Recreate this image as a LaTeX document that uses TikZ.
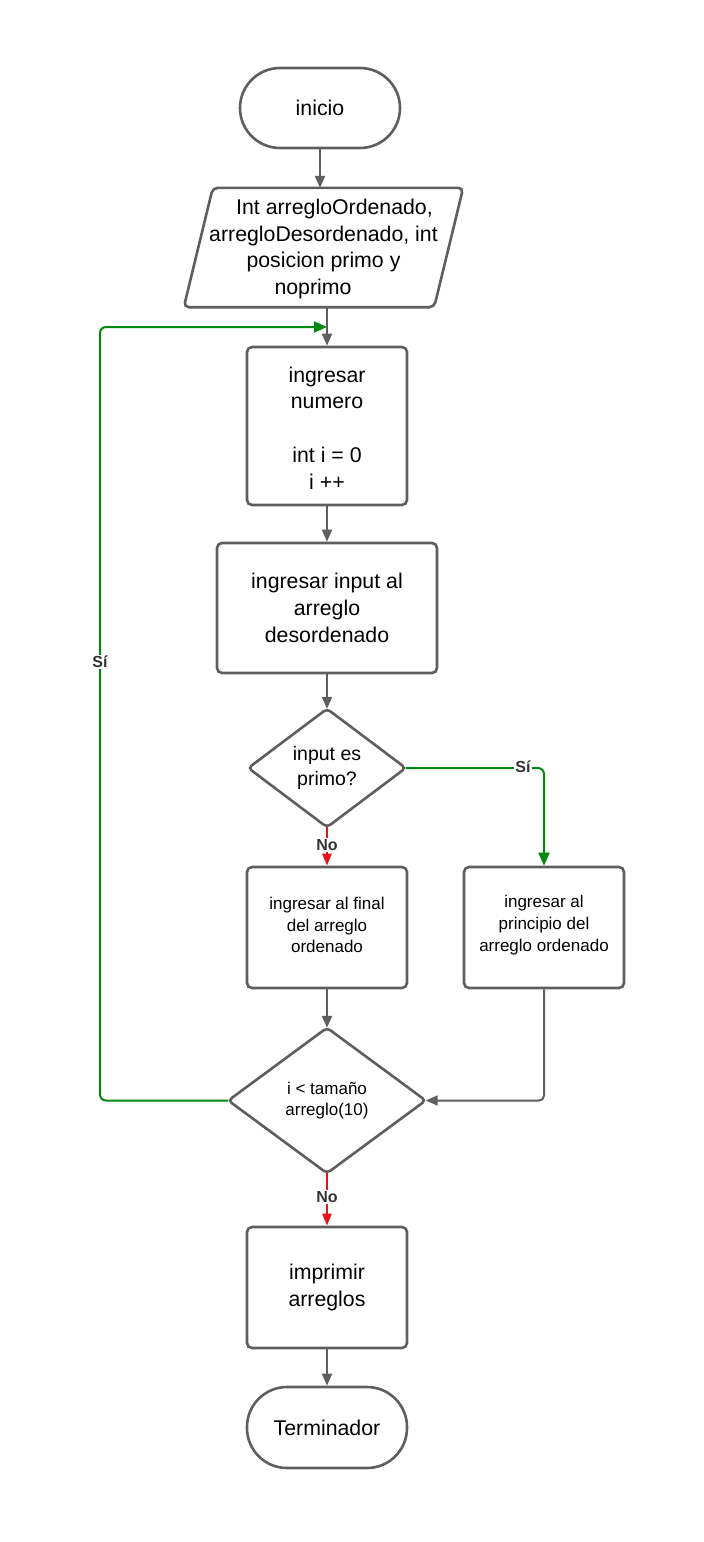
\documentclass[tikz,border=0pt]{standalone}
\usepackage{fontspec}
\setmainfont{Liberation Sans}
\usetikzlibrary{arrows.meta,calc}
\definecolor{ln}{HTML}{5E5E5E}
\definecolor{gr}{HTML}{00890E}
\definecolor{rd}{HTML}{E8141B}
\definecolor{lbl}{HTML}{333333}
\begin{document}
\begin{tikzpicture}[x=1pt,y=-1pt,
  big/.style={font=\fontsize{21.3}{26.8}\selectfont},
  mid/.style={font=\fontsize{19.5}{25}\selectfont},
  sml/.style={font=\fontsize{17}{21.8}\selectfont},
  shp/.style={draw=ln, line width=2.6pt, rounded corners=5pt, fill=white},
  box/.style={shp, align=center, minimum width=160pt, inner sep=0pt},
  tnode/.style={align=center, inner sep=0pt, draw=none},
  arr/.style={draw=ln, line width=2pt, -{Triangle[length=12pt,width=10pt]}},
  garr/.style={draw=gr, line width=2pt, rounded corners=6pt, -{Triangle[length=13pt,width=11pt]}},
  rarr/.style={draw=rd, line width=2.4pt, -{Triangle[length=12pt,width=9pt]}},
  lab/.style={font=\fontsize{16}{18}\selectfont\bfseries, text=lbl, fill=white, inner sep=1pt}]
\useasboundingbox (0,0) rectangle (704,1542);
\fill[white] (0,0) rectangle (704,1542);

% start
\node[box, big, rounded corners=40pt, minimum height=80pt] (ini) at (320,108) {inicio};

% parallelogram
\node[tnode, big, minimum width=279pt, minimum height=119pt] (par) at (323.5,247.5) {};
\draw[shp] ($(par.north west)+(29,0)$) -- (par.north east) -- ($(par.south east)+(-29,0)$) -- (par.south west) -- cycle;
\node[tnode, big] (partxt) at (323.5,249) {\hspace*{22pt}Int arregloOrdenado,\\arregloDesordenado, int\\posicion primo y\hspace*{8pt}\\noprimo\hspace*{21pt}};

% boxes
\node[box, big, minimum height=158pt] (b1) at (327,426) {};
\node[tnode, big] (b1t) at (327,428) {ingresar\\numero\\[26.8pt]int i = 0\\i ++};
\node[box, big, minimum width=220pt, minimum height=130pt] (bin) at (327,608) {ingresar input al\\arreglo\\desordenado};

% diamond 1
\node[tnode, mid, minimum width=157pt, minimum height=118pt] (d1) at (327,768) {};
\draw[shp, rounded corners=4pt] (d1.north) -- (d1.east) -- (d1.south) -- (d1.west) -- cycle;
\node[tnode, mid] (d1t) at (327,768) {input es\\primo?};

\node[box, minimum height=121pt] (b2) at (327,927.5) {};
\node[tnode, sml] (b2t) at (327,925) {ingresar al final\\del arreglo\\ordenado};
\node[box, minimum height=121pt] (b3) at (544,927.5) {};
\node[tnode, sml] (b3t) at (544,925) {ingresar al\\principio del\\arreglo ordenado};

% diamond 2
\node[tnode, sml, minimum width=197pt, minimum height=145pt] (d2) at (327,1100.5) {};
\draw[shp, rounded corners=4pt] (d2.north) -- (d2.east) -- (d2.south) -- (d2.west) -- cycle;
\node[tnode, sml] (d2t) at (327,1100.5) {i < tamaño\\arreglo(10)};

\node[box, big, minimum height=121pt] (b4) at (327,1287.5) {imprimir\\arreglos};
\node[box, big, rounded corners=40pt, minimum height=81pt] (fin) at (327,1427.5) {Terminador};

% connectors
\coordinate (join) at (327,327);
\coordinate (lk) at (100,327);
\draw[arr] (ini.south) -- (ini.south |- par.north);
\draw[arr] (b1.north |- par.south) -- (b1.north);
\draw[arr] (b1.south) -- (bin.north);
\draw[arr] (bin.south) -- (d1.north);
\draw[arr] (b2.south) -- (d2.north);
\draw[arr, rounded corners=5pt] (b3.south) |- (d2.east);
\draw[arr] (b4.south) -- (fin.north);

\draw[garr] (d1.east) -| (b3.north);
\node[lab] (si1) at (523,767) {Sí};

\draw[garr] (d2.west) -| (lk) -- (join);
\node[lab] (si2) at (100,662) {Sí};

\draw[rarr] (d1.south) -- (b2.north);
\node[lab] (no1) at (327,845) {No};
\draw[rarr] (d2.south) -- (b4.north);
\node[lab] (no2) at (327,1197) {No};
\end{tikzpicture}
\end{document}
